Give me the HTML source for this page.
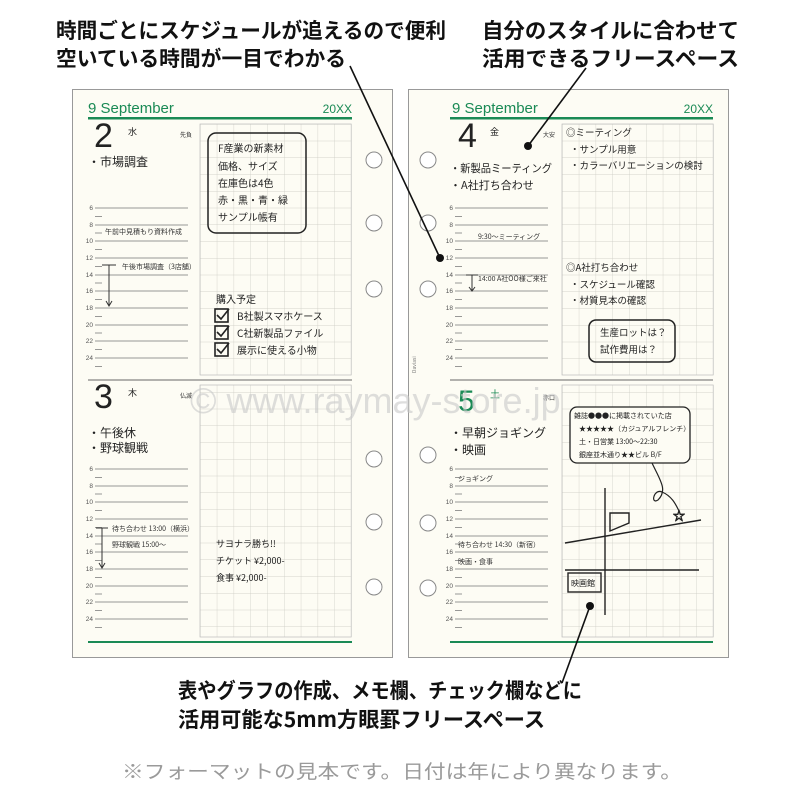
<!DOCTYPE html>
<html><head><meta charset="utf-8"><style>
html,body{margin:0;padding:0;background:#fff;}
svg{display:block;}
.h{font-family:"Liberation Sans","Noto Sans CJK JP",sans-serif;}
.j{font-family:"Noto Sans CJK JP",sans-serif;}
</style></head><body>
<svg width="800" height="800" viewBox="0 0 800 800" xmlns="http://www.w3.org/2000/svg">
<defs>
<pattern id="g" x="200" y="124" width="16.8" height="16.75" patternUnits="userSpaceOnUse">
<path d="M0 0H16.8M0 0V16.75" stroke="#c8c8c0" stroke-width="0.7" fill="none"/>
</pattern>
<pattern id="g2" x="562" y="124" width="16.8" height="16.75" patternUnits="userSpaceOnUse">
<path d="M0 0H16.8M0 0V16.75" stroke="#c8c8c0" stroke-width="0.7" fill="none"/>
</pattern>
<g id="hrs" stroke="#777" stroke-width="0.8">
<path d="M95 208H188M95 225H188M95 241H188M95 258H188M95 275H188M95 291H188M95 308H188M95 325H188M95 341H188M95 358H188"/>
<path d="M95 216.5H102M95 233H102M95 249.5H102M95 266.5H102M95 283H102M95 299.5H102M95 316.5H102M95 333H102M95 349.5H102M95 366.5H102"/>
</g>
<g id="hl" class="h" font-size="6.5" fill="#555" text-anchor="end">
<text x="93" y="210">6</text><text x="93" y="227">8</text><text x="93" y="243">10</text><text x="93" y="260">12</text><text x="93" y="277">14</text><text x="93" y="293">16</text><text x="93" y="310">18</text><text x="93" y="327">20</text><text x="93" y="343">22</text><text x="93" y="360">24</text>
</g>
</defs>

<g class="j" font-weight="bold" font-size="21" fill="#111">
<text x="56" y="38" textLength="390" lengthAdjust="spacingAndGlyphs">時間ごとにスケジュールが追えるので便利</text>
<text x="56" y="66" textLength="290" lengthAdjust="spacingAndGlyphs">空いている時間が一目でわかる</text>
<text x="482" y="38" textLength="257" lengthAdjust="spacingAndGlyphs">自分のスタイルに合わせて</text>
<text x="482" y="66" textLength="257" lengthAdjust="spacingAndGlyphs">活用できるフリースペース</text>
<text x="178" y="698" textLength="404" lengthAdjust="spacingAndGlyphs">表やグラフの作成、メモ欄、チェック欄などに</text>
<text x="178" y="727" textLength="367" lengthAdjust="spacingAndGlyphs">活用可能な5mm方眼罫フリースペース</text>
</g>
<text class="j" x="122" y="778" font-size="19" fill="#9a9a9a" textLength="560" lengthAdjust="spacingAndGlyphs">※フォーマットの見本です。日付は年により異なります。</text>

<rect x="72.5" y="89.5" width="320" height="568" fill="#fdfcf4" stroke="#999" stroke-width="1"/>
<rect x="408.5" y="89.5" width="320" height="568" fill="#fdfcf4" stroke="#999" stroke-width="1"/>

<text class="h" x="88" y="113" font-size="15" fill="#1a8a55">9 September</text>
<text class="h" x="352" y="113" font-size="12" fill="#1a8a55" text-anchor="end">20XX</text>
<rect x="88" y="117" width="264" height="2.5" fill="#1a8a55"/>
<rect x="200" y="124" width="151.2" height="251" fill="url(#g)" stroke="#bbb" stroke-width="0.7"/>
<rect x="200" y="385" width="151.2" height="252" fill="url(#g)" stroke="#bbb" stroke-width="0.7"/>
<line x1="88" y1="380" x2="352" y2="380" stroke="#666" stroke-width="1"/>
<rect x="88" y="641" width="264" height="2" fill="#1a8a55"/>
<use href="#hrs"/><use href="#hl"/>
<g transform="translate(0,261)"><use href="#hrs"/><use href="#hl"/></g>

<text class="h" x="94" y="147" font-size="34" fill="#222">2</text>
<text class="j" x="128" y="135" font-size="9" fill="#222">水</text>
<text class="j" x="180" y="137" font-size="6" fill="#333">先負</text>
<text class="j" x="88" y="166" font-size="12" fill="#222">・市場調査</text>
<text class="j" x="105" y="234" font-size="7" fill="#333">午前中見積もり資料作成</text>
<line x1="102" y1="265" x2="116" y2="265" stroke="#333"/>
<line x1="109" y1="265" x2="109" y2="306" stroke="#333"/>
<path d="M106 301L109 306L112 301" fill="none" stroke="#333"/>
<text class="j" x="122" y="269" font-size="7" fill="#333">午後市場調査（3店舗）</text>
<rect x="208" y="133" width="98" height="100" rx="8" fill="none" stroke="#222" stroke-width="1.5"/>
<g class="j" font-size="10" fill="#222">
<text x="218" y="152">F産業の新素材</text>
<text x="218" y="170">価格、サイズ</text>
<text x="218" y="187">在庫色は4色</text>
<text x="218" y="204">赤・黒・青・緑</text>
<text x="218" y="221">サンプル帳有</text>
<text x="216" y="303">購入予定</text>
<text x="237" y="320">B社製スマホケース</text>
<text x="237" y="337">C社新製品ファイル</text>
<text x="237" y="354">展示に使える小物</text>
</g>
<g fill="none" stroke="#222" stroke-width="1.6">
<rect x="215" y="309" width="13" height="13"/><rect x="215" y="326" width="13" height="13"/><rect x="215" y="343" width="13" height="13"/>
<path d="M217 315l4 4 8-10M217 332l4 4 8-10M217 349l4 4 8-10"/>
</g>

<text class="h" x="94" y="408" font-size="34" fill="#222">3</text>
<text class="j" x="128" y="396" font-size="9" fill="#222">木</text>
<text class="j" x="180" y="398" font-size="6" fill="#333">仏滅</text>
<text class="j" x="88" y="437" font-size="12" fill="#222">・午後休</text>
<text class="j" x="88" y="452" font-size="12" fill="#222">・野球観戦</text>
<line x1="96" y1="528" x2="108" y2="528" stroke="#333"/>
<line x1="102" y1="528" x2="102" y2="568" stroke="#333"/>
<path d="M99 563L102 568L105 563" fill="none" stroke="#333"/>
<text class="j" x="112" y="531" font-size="7" fill="#333">待ち合わせ 13:00（横浜）</text>
<text class="j" x="112" y="547" font-size="7" fill="#333">野球観戦 15:00〜</text>
<g class="j" font-size="9" fill="#222">
<text x="216" y="547">サヨナラ勝ち!!</text>
<text x="216" y="564">チケット ¥2,000-</text>
<text x="216" y="581">食事 ¥2,000-</text>
</g>
<g fill="#fff" stroke="#888" stroke-width="1">
<circle cx="374" cy="160" r="8"/><circle cx="374" cy="223" r="8"/><circle cx="374" cy="289" r="8"/>
<circle cx="374" cy="459" r="8"/><circle cx="374" cy="522" r="8"/><circle cx="374" cy="587" r="8"/>
</g>

<text class="h" x="452" y="113" font-size="15" fill="#1a8a55">9 September</text>
<text class="h" x="713" y="113" font-size="12" fill="#1a8a55" text-anchor="end">20XX</text>
<rect x="450" y="117" width="263" height="2.5" fill="#1a8a55"/>
<rect x="562" y="124" width="151.2" height="251" fill="url(#g2)" stroke="#bbb" stroke-width="0.7"/>
<rect x="562" y="385" width="151.2" height="252" fill="url(#g2)" stroke="#bbb" stroke-width="0.7"/>
<line x1="450" y1="380" x2="713" y2="380" stroke="#666" stroke-width="1"/>
<rect x="450" y="641" width="263" height="2" fill="#1a8a55"/>
<g transform="translate(360,0)"><use href="#hrs"/><use href="#hl"/></g>
<g transform="translate(360,261)"><use href="#hrs"/><use href="#hl"/></g>
<text class="j" x="413" y="370" font-size="5" fill="#777" transform="rotate(-90 416 370)">Daviasi</text>

<text class="h" x="458" y="147" font-size="34" fill="#222">4</text>
<text class="j" x="490" y="135" font-size="9" fill="#222">金</text>
<text class="j" x="543" y="137" font-size="6" fill="#333">大安</text>
<text class="j" x="450" y="172" font-size="11" fill="#222" textLength="102" lengthAdjust="spacingAndGlyphs">・新製品ミーティング</text>
<text class="j" x="450" y="189" font-size="11" fill="#222">・A社打ち合わせ</text>
<text class="j" x="478" y="239" font-size="7" fill="#333">9:30〜ミーティング</text>
<line x1="466" y1="275" x2="478" y2="275" stroke="#333"/>
<line x1="472" y1="275" x2="472" y2="291" stroke="#333"/>
<path d="M469 287L472 291L475 287" fill="none" stroke="#333"/>
<text class="j" x="478" y="281" font-size="7" fill="#333">14:00 A社OO様ご来社</text>
<g class="j" font-size="9.5" fill="#222">
<text x="566" y="136">◎ミーティング</text>
<text x="570" y="153">・サンプル用意</text>
<text x="570" y="169">・カラーバリエーションの検討</text>
<text x="566" y="271">◎A社打ち合わせ</text>
<text x="570" y="288">・スケジュール確認</text>
<text x="570" y="304">・材質見本の確認</text>
<text x="600" y="336">生産ロットは？</text>
<text x="600" y="353">試作費用は？</text>
</g>
<rect x="589" y="320" width="86" height="42" rx="7" fill="none" stroke="#222" stroke-width="1.5"/>

<text class="h" x="458" y="411" font-size="30" fill="#1a8a55">5</text>
<text class="j" x="490" y="398" font-size="10" fill="#1a8a55">土</text>
<text class="j" x="543" y="400" font-size="6" fill="#333">赤口</text>
<text class="j" x="450" y="437" font-size="12" fill="#222">・早朝ジョギング</text>
<text class="j" x="450" y="454" font-size="12" fill="#222">・映画</text>
<text class="j" x="458" y="481" font-size="7" fill="#333">ジョギング</text>
<text class="j" x="458" y="547" font-size="7" fill="#333">待ち合わせ 14:30（新宿）</text>
<text class="j" x="458" y="564" font-size="7" fill="#333">映画・食事</text>
<rect x="570" y="407" width="120" height="56" rx="7" fill="#fdfcf4" stroke="#222" stroke-width="1.3"/>
<g class="j" font-size="7" fill="#222">
<text x="574" y="418">雑誌●●●に掲載されていた店</text>
<text x="579" y="431">★★★★★（カジュアルフレンチ）</text>
<text x="579" y="444">土・日営業 13:00〜22:30</text>
<text x="579" y="457">銀座並木通り★★ビル B/F</text>
</g>
<path d="M652 463C660 480 668 490 658 500C650 505 654 488 662 492C672 496 676 505 679 511" fill="none" stroke="#222" stroke-width="1.2"/>
<text x="679" y="520" font-size="12" fill="none" stroke="#222" stroke-width="0.9" text-anchor="middle" class="h">☆</text>
<g stroke="#222" stroke-width="1.4" fill="none">
<line x1="605" y1="488" x2="605" y2="615"/>
<line x1="565" y1="543" x2="701" y2="520"/>
<line x1="565" y1="570" x2="699" y2="570"/>
<path d="M610 513H629V523L610 531Z"/>
<rect x="568" y="573" width="33" height="19"/>
</g>
<text class="j" x="571" y="586" font-size="8" fill="#222">映画館</text>
<g fill="#fff" stroke="#888" stroke-width="1">
<circle cx="428" cy="160" r="8"/><circle cx="428" cy="223" r="8"/><circle cx="428" cy="289" r="8"/>
<circle cx="428" cy="455" r="8"/><circle cx="428" cy="523" r="8"/><circle cx="428" cy="588" r="8"/>
</g>

<text class="h" x="190" y="413" font-size="36" fill="#c8c8c8" fill-opacity="0.6">© www.raymay-store.jp</text>

<g stroke="#111" stroke-width="1.6">
<line x1="350" y1="66" x2="440" y2="258"/>
<line x1="586" y1="68" x2="528" y2="146"/>
<line x1="562" y1="683" x2="590" y2="606"/>
</g>
<g fill="#111">
<circle cx="440" cy="258" r="4"/><circle cx="528" cy="146" r="4"/><circle cx="590" cy="606" r="4"/>
</g>
</svg>
</body></html>
